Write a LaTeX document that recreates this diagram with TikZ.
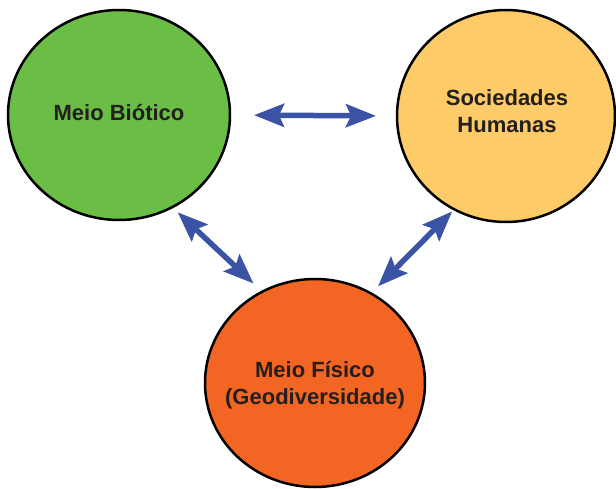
\documentclass[tikz,border=0pt]{standalone}
\usepackage{fontspec}
\setmainfont{Liberation Sans}
\usetikzlibrary{shapes.geometric,arrows.meta}
\definecolor{cgreen}{HTML}{6ABD45}
\definecolor{cyellow}{HTML}{FDCB68}
\definecolor{corange}{HTML}{F26522}
\definecolor{cblue}{HTML}{3A53A4}
\definecolor{ctext}{HTML}{231F20}
\tikzset{
  blob/.style={ellipse, draw=black, line width=2.5pt, inner sep=0pt, outer sep=0pt},
  caption/.style={align=center, text=ctext, inner sep=0pt, font=\fontsize{22}{27}\selectfont\bfseries},
  link/.style={cblue, line width=5.5pt,
    {Stealth[length=30pt,width=23pt,inset=5pt]}-{Stealth[length=30pt,width=23pt,inset=5pt]}}
}
\begin{document}
\begin{tikzpicture}[x=1pt,y=1pt]
\useasboundingbox (0,0) rectangle (616,488);
\node[blob, fill=cgreen, minimum width=222pt, minimum height=210pt] (g) at (119,373) {};
\node[blob, fill=cyellow, minimum width=218pt, minimum height=212pt] (s) at (506,372) {};
\node[blob, fill=corange, minimum width=220pt, minimum height=208pt] (o) at (315,105) {};
\node[caption] (gt) at (119,375) {Meio Biótico};
\node[caption] (st) at (507,377) {Sociedades\\Humanas};
\node[caption] (ot) at (315,103) {Meio Físico\\(Geodiversidade)};
\draw[link, shorten <=24pt, shorten >=21pt] (g.east) -- (s.west);
\draw[link, shorten <=7.5pt, shorten >=12pt] (g.-60) -- (o.120);
\draw[link, shorten <=3pt, shorten >=10pt] (s.-119) -- (o.58);
\end{tikzpicture}
\end{document}
